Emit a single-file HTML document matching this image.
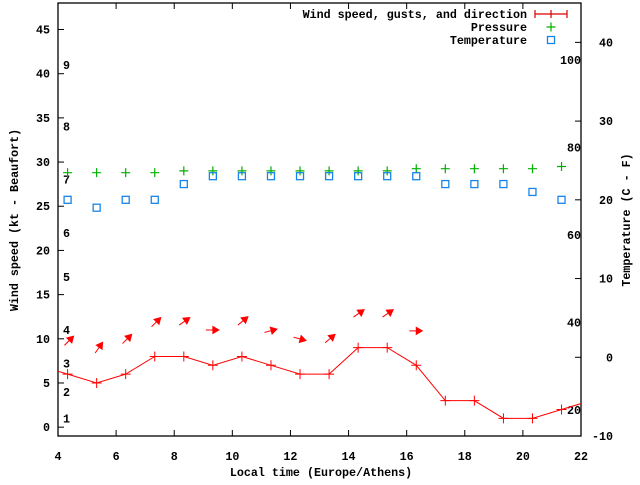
<!DOCTYPE html>
<html><head><meta charset="utf-8"><style>
body{margin:0;background:#fff}
svg text{font-family:"Liberation Mono",monospace;font-weight:bold;font-size:11.7px;fill:#000}
</style></head><body>
<svg id="c" width="640" height="480" xmlns="http://www.w3.org/2000/svg"></svg>
<script>
const times=[4.33,5.33,6.33,7.33,8.33,9.33,10.33,11.33,12.33,13.33,14.33,15.33,16.33,17.33,18.33,19.33,20.33,21.33];
const windKt=[6,5,6,8,8,7,8,7,6,6,9,9,7,3,3,1,1,2];
const windPrev=[3.33,7], windNext=[22.33,3];
const pressure=[28.8,28.8,28.8,28.8,29.0,29.0,29.0,29.0,29.0,29.0,29.0,29.0,29.25,29.25,29.25,29.25,29.25,29.5];
const tempC=[20,19,20,20,22,23,23,23,23,23,23,23,23,22,22,22,21,20];
const arrowT=[4.33,5.33,6.33,7.33,8.33,9.33,10.33,11.33,12.33,13.33,14.33,15.33,16.33];
const arrowKt=[10.3,9.6,10.5,12.4,12.4,11.0,12.5,11.1,9.8,10.5,13.3,13.3,10.9];
const arrowDeg=[45,55,45,45,35,0,40,15,-15,40,35,35,0];
const xTicks=[4,6,8,10,12,14,16,18,20,22];
const yTicks=[0,5,10,15,20,25,30,35,40,45];
const y2Ticks=[-10,0,10,20,30,40];
const fLabels=[100,80,60,40,20];
const bftLabels=[1,2,3,4,5,6,7,8,9];
const bftKt=[1,4,7.2,11,17,22,28,34,41];

const L=58,R=581,T=3,B=436;
const X=t=>L+(t-4)*(R-L)/18;
const Y=v=>B-(v+1)*(B-T)/49;
const Y2=c=>B-(c+10)*(B-T)/55;
const svg=document.getElementById('c');
const NS='http://www.w3.org/2000/svg';
function mk(tag,at,txt){const e=document.createElementNS(NS,tag);for(const k in at)e.setAttribute(k,at[k]);if(txt!==undefined)e.textContent=txt;svg.appendChild(e);return e;}

let e;
e=mk('rect',{x:L,y:T,width:R-L,height:B-T,fill:'none',stroke:'#000','stroke-width':1.3});

xTicks.forEach(t=>{const x=X(t);
 e=mk('path',{d:`M${x},${B}v-6M${x},${T}v6`,stroke:'#000'});
 
 e=mk('text',{x:x,y:460,'text-anchor':'middle'},t);
 });
yTicks.forEach(v=>{const y=Y(v);
 e=mk('path',{d:`M${L},${y}h6`,stroke:'#000'});
 
 e=mk('text',{x:50,y:y+4,'text-anchor':'end'},v);
 });
y2Ticks.forEach(c=>{const y=Y2(c);
 e=mk('path',{d:`M${R},${y}h-6`,stroke:'#000'});
 
 e=mk('text',{x:613,y:y+4,'text-anchor':'end'},c);
 });
fLabels.forEach(f=>{
 e=mk('text',{x:581,y:Y2((f-32)*5/9)+4,'text-anchor':'end'},f);
 });
bftLabels.forEach((b,i)=>{
 e=mk('text',{x:63,y:Y(bftKt[i])+4},b);
 });

e=mk('text',{x:321,y:476,'text-anchor':'middle'},'Local time (Europe/Athens)');

e=mk('text',{x:0,y:0,'text-anchor':'middle',transform:'translate(18,220) rotate(-90)'},'Wind speed (kt - Beaufort)');

e=mk('text',{x:0,y:0,'text-anchor':'middle',transform:'translate(630,220) rotate(-90)'},'Temperature (C - F)');


mk('clipPath',{id:'pc'});
svg.lastChild.appendChild(Object.assign(document.createElementNS(NS,'rect'),{}));
const cr=svg.lastChild.firstChild;cr.setAttribute('x',L);cr.setAttribute('y',T);cr.setAttribute('width',R-L);cr.setAttribute('height',B-T);

// wind line
let pts=[[windPrev[0],windPrev[1]]].concat(times.map((t,i)=>[t,windKt[i]])).concat([[windNext[0],windNext[1]]]);
e=mk('polyline',{points:pts.map(p=>X(p[0])+','+Y(p[1])).join(' '),fill:'none',stroke:'#f00','stroke-width':1,'clip-path':'url(#pc)'});

times.forEach((t,i)=>{const x=X(t),y=Y(windKt[i]);
 e=mk('path',{d:`M${x-5},${y}h10M${x},${y-5}v10`,stroke:'#f00'});
 });
// arrows
arrowT.forEach((t,i)=>{const hx=X(t)+6,hy=Y(arrowKt[i]);const a=arrowDeg[i]*Math.PI/180;const len=13;
 const tx=hx-len*Math.cos(a),ty=hy+len*Math.sin(a);
 const ux=Math.cos(a),uy=-Math.sin(a),px=-uy,py=ux;
 const bx=hx-6*ux,by=hy-6*uy;
 e=mk('path',{d:`M${tx},${ty}L${bx},${by}M${hx},${hy}L${bx+3.5*px},${by+3.5*py}L${bx-3.5*px},${by-3.5*py}Z`,stroke:'#f00',fill:'#f00','stroke-width':1});
 });
// pressure
times.forEach((t,i)=>{const x=X(t),y=Y(pressure[i]);
 e=mk('path',{d:`M${x-4.5},${y}h9M${x},${y-4.5}v9`,stroke:'#00b000','stroke-width':1.2});
 });
// temperature
times.forEach((t,i)=>{const x=X(t),y=Y2(tempC[i]);
 e=mk('rect',{x:x-3.5,y:y-3.5,width:7,height:7,fill:'none',stroke:'#1a84e6','stroke-width':1.3});
 });
// legend
e=mk('text',{x:527,y:18,'text-anchor':'end'},'Wind speed, gusts, and direction');

e=mk('path',{d:'M535,14h32M535,10v8M567,10v8M551,10v8',stroke:'#d00','stroke-width':1.2});

e=mk('text',{x:527,y:31,'text-anchor':'end'},'Pressure');

e=mk('path',{d:'M546.5,27h9M551,22.5v9',stroke:'#00b000','stroke-width':1.2});

e=mk('text',{x:527,y:44,'text-anchor':'end'},'Temperature');

e=mk('rect',{x:547.5,y:36.5,width:7,height:7,fill:'none',stroke:'#1a84e6','stroke-width':1.3});

</script>
</body></html>
